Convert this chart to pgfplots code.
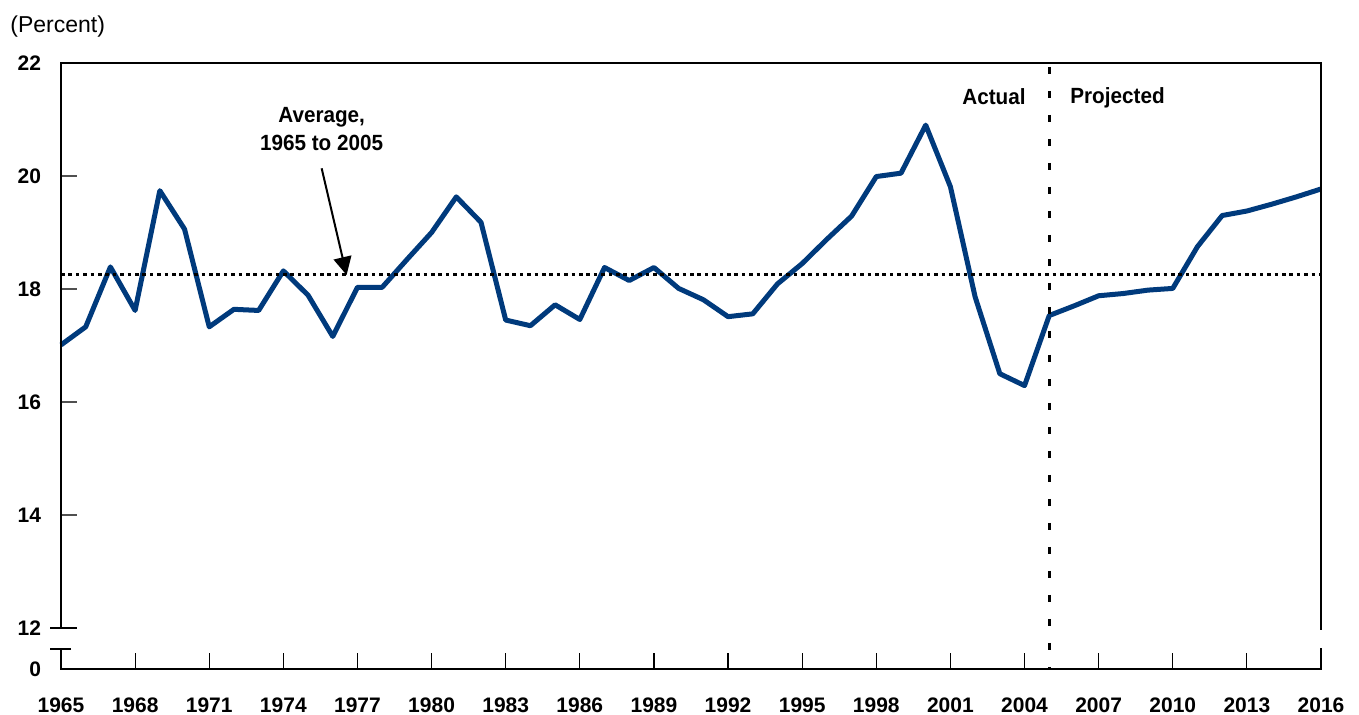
\documentclass[border=0pt]{standalone}
\usepackage{fontspec}
\setmainfont{Liberation Sans}
\newfontfamily\cond[FakeStretch=0.94]{Liberation Sans}
\usepackage{pgfplots}
\pgfplotsset{compat=1.18}
\usetikzlibrary{arrows.meta}
\definecolor{lineblue}{RGB}{0,58,124}
\definecolor{tickgray}{RGB}{80,80,80}
\begin{document}
\begin{tikzpicture}
\begin{axis}[
  at={(0,0)}, anchor=south west,
  scale only axis, width=630pt, height=303pt,
  xmin=1965, xmax=2016, ymin=11.274, ymax=22,
  axis line style={draw=none},
  clip=false,
  tick pos=left,
  xtick={1965,1968,...,2016},
  xticklabels={1965,1968,1971,1974,1977,1980,1983,1986,1989,1992,1995,1998,2001,2004,2007,2010,2013,2016},
  ytick={11.274,12,14,16,18,20,22},
  yticklabels={0,12,14,16,18,20,22},
  tick align=inside, major tick length=8pt,
  xtick style={line width=0.6pt, black},
  ytick style={line width=1pt, tickgray},
  ticklabel style={font=\bfseries\fontsize{10.5}{12}\selectfont},
  xticklabel style={yshift=-11pt},
  yticklabel style={xshift=-6.5pt},
]
\addplot[lineblue, line width=2.5pt, line join=round] coordinates {
(1965,17.01) (1966,17.33) (1967,18.39) (1968,17.62) (1969,19.74) (1970,19.06)
(1971,17.33) (1972,17.64) (1973,17.62) (1974,18.32) (1975,17.89) (1976,17.16)
(1977,18.03) (1978,18.03) (1979,18.52) (1980,19.00) (1981,19.63) (1982,19.18)
(1983,17.45) (1984,17.35) (1985,17.72) (1986,17.46) (1987,18.38) (1988,18.15)
(1989,18.38) (1990,18.01) (1991,17.81) (1992,17.51) (1993,17.56) (1994,18.09)
(1995,18.45) (1996,18.88) (1997,19.29) (1998,19.99) (1999,20.05) (2000,20.90)
(2001,19.81) (2002,17.86) (2003,16.50) (2004,16.29) (2005,17.53) (2006,17.70)
(2007,17.88) (2008,17.92) (2009,17.98) (2010,18.01) (2011,18.75) (2012,19.30)
(2013,19.38) (2014,19.50) (2015,19.63) (2016,19.77)
};
\addplot[black, line width=1.6pt, dash pattern=on 1.8pt off 1.9pt] coordinates {(1965,18.26) (2016,18.26)};
\addplot[black, line width=1.5pt, dash pattern=on 3.7pt off 8.3pt] coordinates {(2005,21.93) (2005,11.274)};
% y tick marks
\draw[line width=1pt, tickgray] (axis cs:1965,14) -- (axis cs:1965.648,14);
\draw[line width=1pt, tickgray] (axis cs:1965,16) -- (axis cs:1965.648,16);
\draw[line width=1pt, tickgray] (axis cs:1965,18) -- (axis cs:1965.648,18);
\draw[line width=1pt, tickgray] (axis cs:1965,20) -- (axis cs:1965.648,20);
\draw[line width=1pt, tickgray] (axis cs:1965,22) -- (axis cs:1965.648,22);
% axis frame with break
\draw[line width=1.4pt] (axis cs:1965,12) -- (axis cs:1965,22) -- (axis cs:2016,22) -- (axis cs:2016,11.965);
\draw[line width=1.4pt] (axis cs:2016,11.64) -- (axis cs:2016,11.274) -- (axis cs:1965,11.274) -- (axis cs:1965,11.628) -- (axis cs:1964.555,11.628);
\draw[line width=1.2pt] (axis cs:1965.405,11.628) -- (axis cs:1965,11.628);
\draw[line width=1.2pt] (axis cs:1964.555,12) -- (axis cs:1965.648,12);
% annotations
\node[font=\cond\bfseries\fontsize{11}{14}\selectfont, align=center] at (axis cs:1975.55,20.83) {Average,\\1965 to 2005};
\draw[line width=1pt, -{Triangle[width=9pt,length=9pt]}] (axis cs:1975.55,20.136) -- (axis cs:1976.56,18.248);
\node[font=\cond\bfseries\fontsize{11}{13}\selectfont, anchor=east, inner sep=0pt] at (axis cs:2004.06,21.40) {Actual};
\node[font=\cond\bfseries\fontsize{11}{13}\selectfont, anchor=west, inner sep=0pt] at (axis cs:2005.84,21.375) {Projected};
\end{axis}
\node[anchor=west, inner sep=0pt, font=\fontsize{11.5}{13}\selectfont] at (-25.5pt,321pt) {(Percent)};
\pgfresetboundingbox
\path[use as bounding box] (-30.5pt,-23pt) rectangle (649pt,334.5pt);
\end{tikzpicture}
\end{document}
